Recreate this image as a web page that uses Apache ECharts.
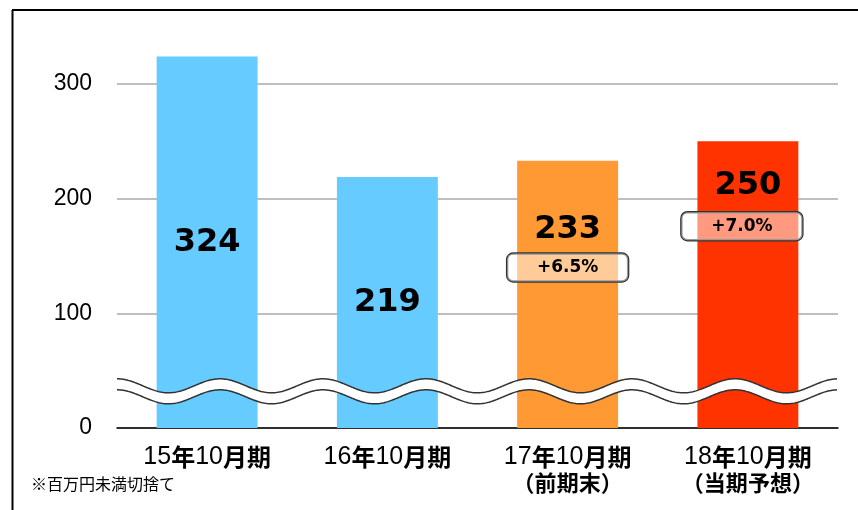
<!DOCTYPE html>
<html>
<head>
<meta charset="utf-8">
<script src="https://cdn.jsdelivr.net/npm/echarts@6/dist/echarts.min.js"></script>
<style>html,body{margin:0;padding:0;background:#fff;}#c{width:858px;height:510px;}</style>
</head>
<body>
<div id="c"></div>
<script>
// ---- data ----
const categories = ['15年10月期', '16年10月期', '17年10月期\n（前期末）', '18年10月期\n（当期予想）'];
const values = [324, 219, 233, 250];
const barColors = ['#66CCFF', '#66CCFF', '#FF9933', '#FF3300'];
const growthLabels = ['', '', '+6.5%', '+7.0%'];
const growthLevels = [null, null, 140, 176];
const yTicks = [0, 100, 200, 300];
const breakLevel = 32;
const footnote = '※百万円未満切捨て';

// ---- styles ----
const labelPos = ['inside', 'inside', ['50%', 69], ['50%', 44]];
const badgeOffset = [[0, 0], [0, 0], [0, 0], [-6, 0]];

function richLabel(s) {
  return s.split('\n').map(function (line, li) {
    return line.replace(/([0-9]+)|([^0-9]+)/g, function (m, d, k) {
      return d ? '{n|' + d + '}' : (li === 0 ? '{k|' + k + '}' : '{k2|' + k + '}');
    });
  }).join('\n');
}

const chart = echarts.init(document.getElementById('c'), null, {renderer: 'canvas'});
const option = {
  backgroundColor: '#fff',
  animation: false,
  grid: {left: 117, right: 20, top: 84, bottom: 82, containLabel: false},
  xAxis: {
    type: 'category',
    data: categories,
    axisTick: {show: false},
    axisLine: {lineStyle: {color: '#000', width: 1.5}},
    axisLabel: {
      margin: 16,
      interval: 0,
      formatter: richLabel,
      rich: {
        n: {fontFamily: 'Liberation Sans', fontSize: 25, color: '#000', lineHeight: 26},
        k: {fontFamily: 'Noto Sans CJK JP', fontWeight: 'bold', fontSize: 24, color: '#000', lineHeight: 26},
        k2: {fontFamily: 'Noto Sans CJK JP', fontWeight: 'bold', fontSize: 22, color: '#000', lineHeight: 26}
      }
    }
  },
  yAxis: {
    type: 'value',
    min: yTicks[0],
    max: yTicks[yTicks.length - 1],
    interval: yTicks[1] - yTicks[0],
    axisLine: {show: false},
    axisTick: {show: false},
    axisLabel: {margin: 25, fontFamily: 'Liberation Sans', fontSize: 23, color: '#000'},
    splitLine: {lineStyle: {color: '#aaa', width: 1.5}}
  },
  series: [
    {
      type: 'bar',
      clip: false,
      barWidth: '56%',
      z: 2,
      data: values.map(function (v, i) {
        return {
          value: v,
          itemStyle: {color: barColors[i]},
          label: {
            show: true,
            position: labelPos[i],
            align: 'center',
            verticalAlign: 'middle',
            formatter: String(v),
            fontFamily: 'DejaVu Sans',
            fontWeight: 'bold',
            fontSize: 32,
            color: '#000'
          }
        };
      })
    },
    {
      type: 'custom',
      z: 5,
      clip: false,
      data: [[0, breakLevel]],
      renderItem: function (params, api) {
        const cs = params.coordSys;
        const yc = api.coord([0, api.value(1)])[1];
        const x0 = cs.x, x1 = cs.x + cs.width;
        const period = cs.width / 7;
        const amp = 7, gap = 5.5;
        const up = [], lo = [];
        for (let x = x0; x <= x1 + 0.01; x += 1.5) {
          const dy = -amp * Math.cos(2 * Math.PI * (x - x0) / period);
          up.push([x, yc - gap + dy]);
          lo.push([x, yc + gap + dy]);
        }
        return {
          type: 'group',
          children: [
            {type: 'polygon', shape: {points: up.concat(lo.slice().reverse())}, style: {fill: '#fff'}},
            {type: 'polyline', shape: {points: up}, style: {stroke: '#333', lineWidth: 1.5, fill: null}},
            {type: 'polyline', shape: {points: lo}, style: {stroke: '#333', lineWidth: 1.5, fill: null}}
          ]
        };
      }
    },
    {
      type: 'scatter',
      z: 6,
      clip: false,
      symbolSize: 2,
      itemStyle: {color: 'rgba(0,0,0,0)', opacity: 1},
      emphasis: {disabled: true},
      data: growthLevels.map(function (v, i) {
        if (v === null) return null;
        return {
          value: [i, v],
          label: {
            show: true,
            position: 'inside',
            offset: badgeOffset[i],
            formatter: growthLabels[i],
            width: 121,
            height: 28,
            lineHeight: 28,
            align: 'center',
            verticalAlign: 'middle',
            fontFamily: 'DejaVu Sans',
            fontWeight: 'bold',
            fontSize: 17,
            color: '#000',
            textBorderWidth: 0,
            backgroundColor: 'rgba(255,255,255,0.5)',
            borderColor: '#333',
            borderWidth: 1.2,
            borderRadius: 6
          }
        };
      }).filter(function (d) { return d !== null; })
    }
  ],
  graphic: [
    {type: 'line', shape: {x1: 12, y1: 10, x2: 858, y2: 10}, style: {stroke: '#000', lineWidth: 2}},
    {type: 'line', shape: {x1: 12.5, y1: 10, x2: 12.5, y2: 510}, style: {stroke: '#000', lineWidth: 2}},
    {type: 'text', left: 31, top: 476, style: {text: footnote, font: '16px "Noto Sans CJK JP"', fill: '#000'}}
  ]
};
chart.setOption(option);
</script>
</body>
</html>
